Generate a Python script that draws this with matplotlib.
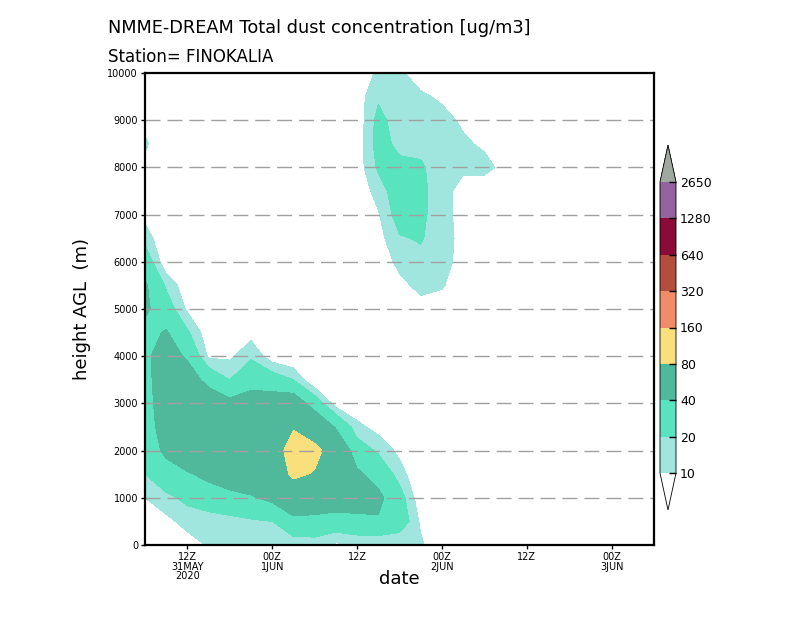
import numpy as np
import matplotlib
matplotlib.use('Agg')
import matplotlib.pyplot as plt
from matplotlib.colors import ListedColormap, BoundaryNorm

# time axis: hours since 2020-05-31 00Z, 3-hourly
hours = [6, 9, 12, 15, 18, 21, 24, 27, 30, 33, 36, 39, 42, 45, 48, 51, 54, 57, 60, 63, 66, 69, 72, 75, 78]
# height AGL (m)
heights = [0, 500, 1000, 1500, 2000, 2500, 3000, 3500, 4000, 4500, 5000,
           5500, 6000, 6500, 7000, 7500, 8000, 8500, 9000, 9500, 10000]

# dust concentration (ug/m3), one row per time step, bottom -> top
conc = [
    [0, 3, 10, 20, 26, 30, 32, 34, 36, 33, 44, 43, 30, 16, 6, 3, 6, 12, 6, 2, 0],      # 06Z 31MAY
    [2, 7, 17, 30, 45, 50, 52, 52, 50, 42, 28, 18, 2, 0, 0, 0, 0, 0, 0, 0, 0],       # 09Z
    [5, 14, 23, 38, 55, 60, 58, 52, 37, 22, 8, 3, 0, 0, 0, 0, 0, 0, 0, 0, 0],        # 12Z
    [11, 13, 30, 45, 58, 62, 55, 33, 8, 3, 0, 0, 0, 0, 0, 0, 0, 0, 0, 0, 0],         # 15Z
    [12, 15, 35, 50, 60, 58, 46, 20, 8, 2, 0, 0, 0, 0, 0, 0, 0, 0, 0, 0, 0],         # 18Z
    [13, 18, 38, 55, 62, 60, 50, 32, 18, 6, 0, 0, 0, 0, 0, 0, 0, 0, 0, 0, 0],        # 21Z
    [14, 20, 45, 62, 66, 64, 52, 28, 4, 0, 0, 0, 0, 0, 0, 0, 0, 0, 0, 0, 0],         # 00Z 1JUN
    [12, 34, 60, 85, 92, 78, 55, 20, 0, 0, 0, 0, 0, 0, 0, 0, 0, 0, 0, 0, 0],         # 03Z
    [14, 32, 60, 78, 88, 62, 30, 0, 0, 0, 0, 0, 0, 0, 0, 0, 0, 0, 0, 0, 0],          # 06Z
    [8, 30, 55, 64, 65, 38, 5, 0, 0, 0, 0, 0, 0, 0, 0, 0, 0, 0, 0, 0, 0],            # 09Z
    [9, 35, 50, 44, 28, 13, 2, 0, 0, 0, 0, 0, 0, 0, 0, 3, 4, 4, 3, 5, 2],            # 12Z
    [8, 38, 45, 32, 18, 6, 0, 0, 0, 0, 0, 0, 3, 6, 9, 14, 22, 25, 24, 18, 12],       # 15Z
    [9, 30, 26, 15, 7, 0, 0, 0, 0, 0, 2, 7, 13, 19, 26, 28, 23, 17, 14, 12, 11],     # 18Z
    [12, 8, 3, 0, 0, 0, 0, 0, 0, 0, 6, 13, 17, 21, 23, 24, 22, 16, 13, 11, 7],       # 21Z
    [0, 0, 0, 0, 0, 0, 0, 0, 0, 0, 5, 11, 13, 14, 13, 12, 13, 13, 12, 9, 4],         # 00Z 2JUN
    [0, 0, 0, 0, 0, 0, 0, 0, 0, 0, 2, 4, 7, 7, 7, 8, 11, 11, 9, 4, 1],               # 03Z
    [0, 0, 0, 0, 0, 0, 0, 0, 0, 0, 0, 0, 0, 0, 3, 6, 12, 9, 4, 0, 0],                # 06Z
    [0, 0, 0, 0, 0, 0, 0, 0, 0, 0, 0, 0, 0, 0, 0, 0, 8, 2, 0, 0, 0],                 # 09Z
    [0] * 21,                                                                        # 12Z
    [0] * 21,
    [0] * 21,
    [0] * 21,
    [0] * 21,                                                                        # 00Z 3JUN
    [0] * 21,
    [0] * 21,
]

levels = [10, 20, 40, 80, 160, 320, 640, 1280, 2650]
level_colors = ['#a0e6df', '#5ae3bf', '#50b89b', '#fae07c', '#f08c68',
                '#b34d3e', '#8c0a37', '#9364a0']
over_color = '#a0a8a0'

xtick_pos = [12, 24, 36, 48, 60, 72]
xtick_labels = ['12Z\n31MAY\n2020', '00Z\n1JUN', '12Z', '00Z\n2JUN', '12Z', '00Z\n3JUN']
ytick_pos = list(range(0, 10001, 1000))

cmap = ListedColormap(level_colors)
cmap.set_under((1, 1, 1, 0))
cmap.set_over(over_color)
norm = BoundaryNorm(levels, cmap.N)

fig = plt.figure(figsize=(8, 6.18), dpi=100)
ax = fig.add_axes([145 / 800, 73 / 618, 509 / 800, 472 / 618])

Z = np.array(conc, dtype=float).T
cs = ax.contourf(hours, heights, Z, levels=levels, cmap=cmap, norm=norm, extend='both', zorder=1)

ax.set_xlim(6, 78)
ax.set_ylim(0, 10000)
ax.set_xticks(xtick_pos)
ax.set_xticklabels(xtick_labels, fontsize=7, linespacing=0.95)
ax.set_yticks(ytick_pos)
ax.set_yticklabels([str(v) for v in ytick_pos], fontsize=7)
ax.tick_params(axis='both', direction='out', length=3, width=1, pad=2)

for h in ytick_pos[1:-1]:
    ax.axhline(h, color='#a0a0a0', lw=1, dashes=(10.8, 5), zorder=2)

for s in ax.spines.values():
    s.set_linewidth(1.6)
    s.set_zorder(3)

ax.set_xlabel('date', fontsize=13, labelpad=-8)
ax.set_ylabel('height AGL  (m)', fontsize=13, labelpad=12)

fig.text(108 / 800, 1 - 28 / 618, 'NMME-DREAM Total dust concentration [ug/m3]',
         fontsize=12.8, va='center', ha='left')
fig.text(108 / 800, 1 - 57 / 618, 'Station= FINOKALIA',
         fontsize=12, va='center', ha='left')

# colorbar
cax = fig.add_axes([660 / 800, (618 - 510) / 618, 16 / 800, 365 / 618])
cb = fig.colorbar(cs, cax=cax, extend='both', extendfrac=0.127, ticks=levels)
cb.outline.set_linewidth(0.6)
cb.ax.tick_params(length=5, width=1, direction='in', labelsize=9, pad=3)
cb.ax.set_yticklabels([str(v) for v in levels])

fig.savefig('out.png', dpi=100)
